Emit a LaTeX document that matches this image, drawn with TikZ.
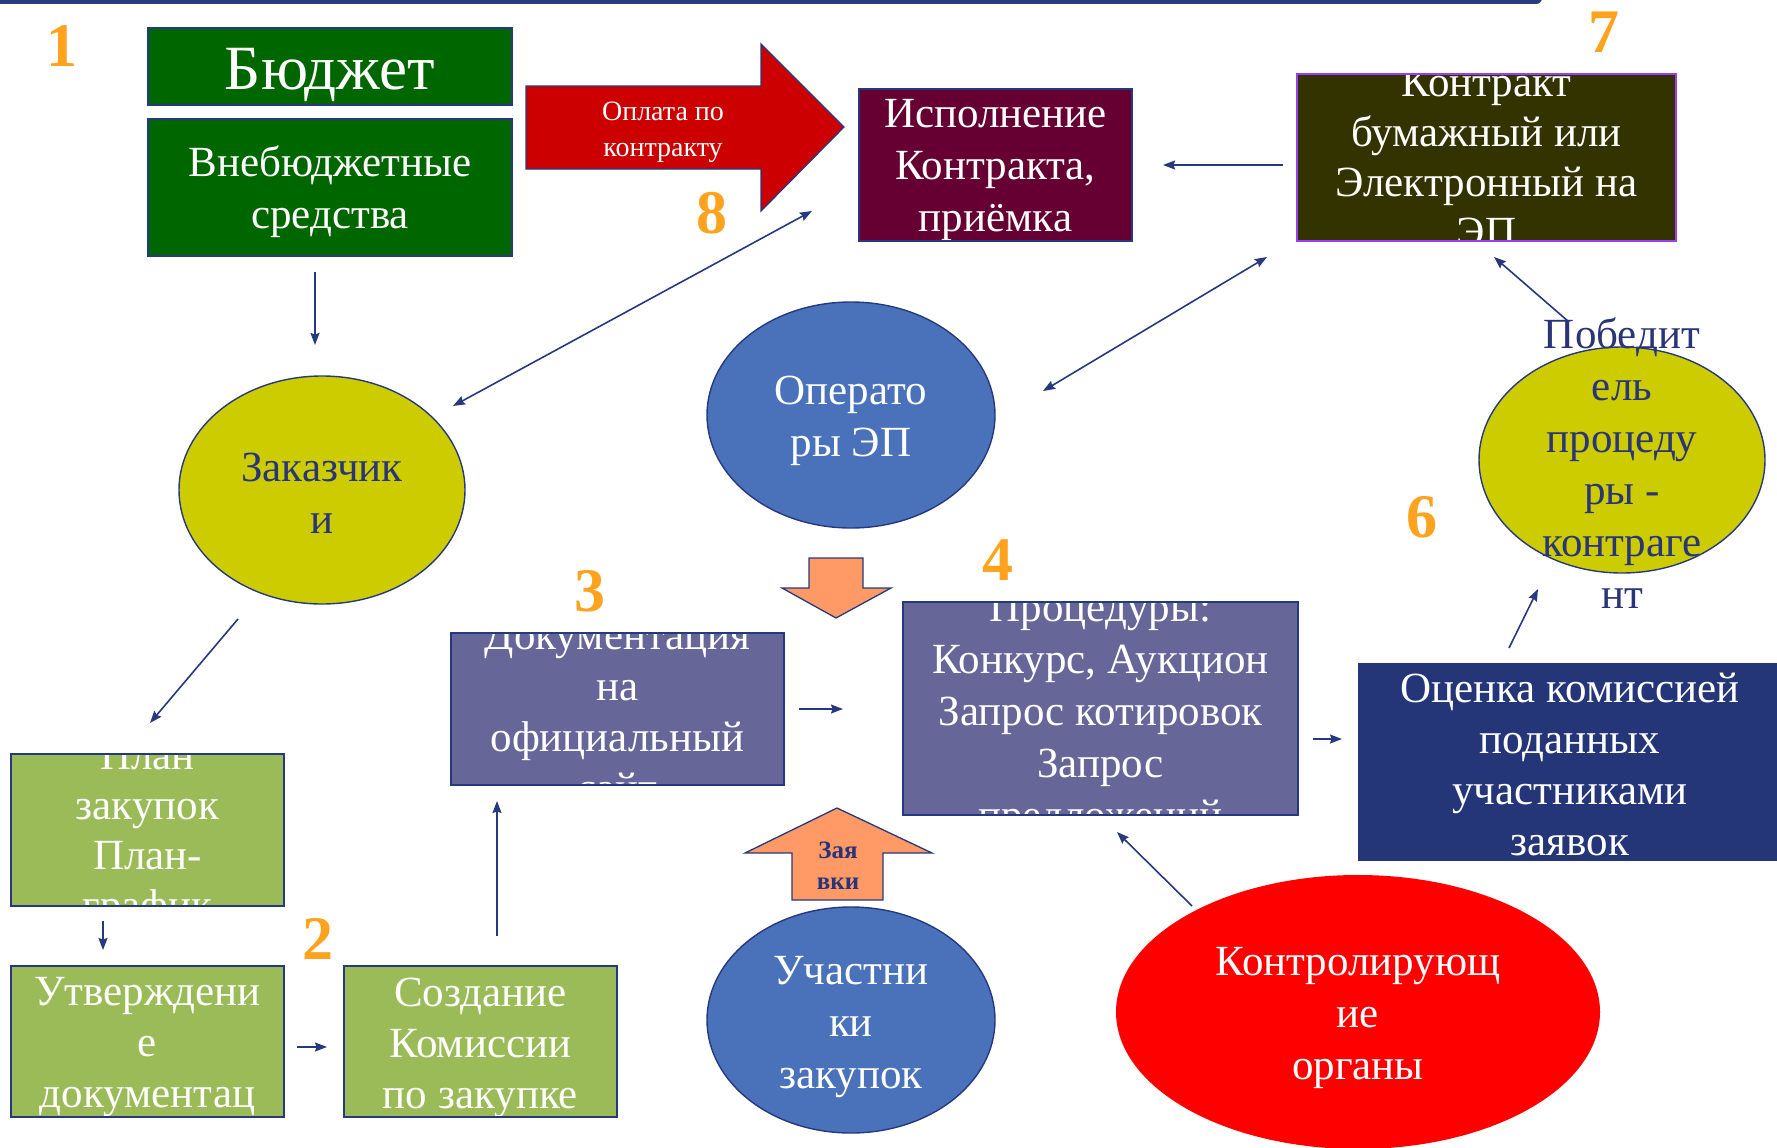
\documentclass[tikz,border=0pt]{standalone}
\usepackage{fontspec}
\setmainfont{Liberation Serif}
\usetikzlibrary{arrows.meta,calc,shapes.geometric}
\definecolor{navy}{HTML}{26397F}
\definecolor{navytxt}{HTML}{2A3478}
\definecolor{numcol}{HTML}{FFA31F}
\definecolor{dgreen}{HTML}{006600}
\definecolor{lgreen}{HTML}{9BBB59}
\definecolor{wine}{HTML}{660033}
\definecolor{olive}{HTML}{333300}
\definecolor{violet}{HTML}{9B3DF5}
\definecolor{blueell}{HTML}{4A72BA}
\definecolor{yell}{HTML}{CCCC00}
\definecolor{slate}{HTML}{666699}
\definecolor{deepblue}{HTML}{253678}
\definecolor{redarr}{HTML}{CC0000}
\definecolor{peach}{HTML}{FF9966}
\definecolor{barcol}{HTML}{283C7C}
\tikzset{
  ctip/.tip={Stealth[length=12pt,width=9pt,inset=1.5pt]},
  conn/.style={draw=navy, line width=1.6pt, -ctip},
  dconn/.style={draw=navy, line width=1.6pt, ctip-ctip},
  boxnode/.style={inner sep=0pt, outer sep=0pt, rectangle},
  bord/.style={draw=navy, line width=1.6pt},
  ellnode/.style={ellipse, inner sep=0pt, outer sep=0pt, draw=navy, line width=1.4pt},
  wtxt/.style={text=white, align=center, inner sep=0pt, font=\fontsize{43}{52}\selectfont},
  ntxt/.style={text=navytxt, align=center, inner sep=0pt, font=\fontsize{43}{52}\selectfont},
  num/.style={text=numcol, inner sep=0pt, font=\bfseries\fontsize{62}{62}\selectfont},
  shapeline/.style={draw=navy, line width=1.3pt, line join=miter},
}
\begin{document}
\begin{tikzpicture}[x=1pt,y=-1pt]
\useasboundingbox (0,0) rectangle (1777,1148);
% top bar
\fill[barcol, rounded corners=6pt] (-20,-20) rectangle (1542,4);

% numbers
\node[num] (n1) at (62,46) {1};
\node[num] (n8) at (712,213) {8};
\node[num] (n7) at (1604,32) {7};
\node[num] (n3) at (590,591) {3};
\node[num] (n4) at (998,560) {4};
\node[num] (n6) at (1422,517) {6};
\node[num] (n2) at (318,939) {2};

% boxes
\node[boxnode, fill=dgreen, minimum width=364pt, minimum height=77pt] (budj) at (330,66.5) {};
\node[boxnode, fill=dgreen, minimum width=364pt, minimum height=137pt] (vneb) at (330,187.5) {};
\node[boxnode, fill=wine, minimum width=273pt, minimum height=152pt] (isp) at (995.5,165) {};
\node[boxnode, fill=olive, minimum width=379pt, minimum height=167pt] (kontr) at (1486.5,157.5) {};
\node[boxnode, fill=slate, minimum width=333pt, minimum height=152pt] (doc) at (617.5,709) {};
\node[boxnode, fill=slate, minimum width=395pt, minimum height=213pt] (proc) at (1100.5,708.5) {};
\node[boxnode, fill=deepblue, minimum width=424pt, minimum height=198pt] (ocen) at (1570,762) {};
\node[boxnode, fill=lgreen, minimum width=273pt, minimum height=152pt] (plan) at (147.5,830) {};
\node[boxnode, fill=lgreen, minimum width=273pt, minimum height=151pt] (utv) at (147.5,1041.5) {};
\node[boxnode, fill=lgreen, minimum width=273pt, minimum height=151pt] (sozd) at (480.5,1041.5) {};

% box texts (clipped to their boxes)
\node[wtxt, font=\fontsize{63}{63}\selectfont] (budjT) at ($(budj)+(0,8)$) {Бюджет};
\node[wtxt, font=\fontsize{43}{52}\selectfont] (vnebT) at ($(vneb)+(0,4)$) {Внебюджетные\\средства};
\begin{scope}
\clip (isp.south west) rectangle (isp.north east);
\node[wtxt] (ispT) at ($(isp)+(0,5)$) {Исполнение\\Контракта,\\приёмка};
\end{scope}
\begin{scope}
\clip (kontr.south west) rectangle (kontr.north east);
\node[wtxt, font=\fontsize{43}{50}\selectfont] (kontrT) at (kontr) {Контракт\\бумажный или\\Электронный на\\ЭП};
\end{scope}
\begin{scope}
\clip (doc.south west) rectangle (doc.north east);
\node[wtxt, font=\fontsize{43}{51}\selectfont] (docT) at ($(doc)+(0,3)$) {Документация\\на\\официальный\\сайт};
\end{scope}
\begin{scope}
\clip (proc.south west) rectangle (proc.north east);
\node[wtxt] (procT) at ($(proc)+(0,7)$) {Процедуры:\\Конкурс, Аукцион\\Запрос котировок\\Запрос\\предложений};
\end{scope}
\node[wtxt, font=\fontsize{43}{51}\selectfont] (ocenT) at ($(ocen)+(0,2)$) {Оценка комиссией\\поданных\\участниками\\заявок};
\begin{scope}
\clip (plan.south west) rectangle (plan.north east);
\node[wtxt, font=\fontsize{43}{50}\selectfont] (planT) at ($(plan)+(0,5)$) {План\\закупок\\План-\\график};
\end{scope}
\begin{scope}
\clip (utv.south west) rectangle (utv.north east);
\node[wtxt, font=\fontsize{43}{51}\selectfont] (utvT) at ($(utv)+(0,6)$) {Утверждени\\е\\документац};
\end{scope}
\node[wtxt, font=\fontsize{43}{51}\selectfont] (sozdT) at ($(sozd)+(0,6)$) {Создание\\Комиссии\\по закупке};

% borders drawn over texts
\draw[bord] (budj.south west) rectangle (budj.north east);
\draw[bord] (vneb.south west) rectangle (vneb.north east);
\draw[bord] (isp.south west) rectangle (isp.north east);
\draw[draw=violet, line width=2pt] (kontr.south west) rectangle (kontr.north east);
\draw[bord] (doc.south west) rectangle (doc.north east);
\draw[bord] (proc.south west) rectangle (proc.north east);
\draw[bord] (plan.south west) rectangle (plan.north east);
\draw[bord] (utv.south west) rectangle (utv.north east);
\draw[bord] (sozd.south west) rectangle (sozd.north east);

% red arrow "payment"
\draw[shapeline, fill=redarr] (526,86) -- (761,86) -- (761,44) -- (844,127) -- (761,211) -- (761,169) -- (526,169) -- cycle;
\node[wtxt, font=\fontsize{28}{36}\selectfont] (pay) at (663,132) {Оплата по\\контракту};

% orange arrows
\draw[shapeline, fill=peach] (809,558) -- (863,558) -- (863,588) -- (891,588) -- (836,618) -- (782,588) -- (809,588) -- cycle;
\draw[shapeline, fill=peach] (837,808) -- (932,853) -- (883,853) -- (883,900) -- (792,900) -- (792,853) -- (745,853) -- cycle;
\node[ntxt, font=\bfseries\fontsize{25}{31}\selectfont] (zay) at (838,866) {Зая\\вки};

% ellipses
\node[ellnode, fill=yell, minimum width=286pt, minimum height=228pt] (zak) at (322,490) {};
\node[ntxt] (zakT) at ($(zak)+(0,3)$) {Заказчик\\и};
\node[ellnode, fill=blueell, minimum width=288pt, minimum height=226pt] (oper) at (851,415) {};
\node[wtxt] (operT) at ($(oper)+(0,6)$) {Операто\\ры ЭП};
\node[ellnode, fill=yell, minimum width=286pt, minimum height=226pt] (pob) at (1622,460) {};
\node[ntxt] (pobT) at (1622,463) {Победит\\ель\\процеду\\ры -\\контраге\\нт};
\node[ellnode, fill=blueell, minimum width=288pt, minimum height=226pt] (uch) at (851,1020) {};
\node[wtxt] (uchT) at ($(uch)+(0,7)$) {Участни\\ки\\закупок};
\node[ellipse, inner sep=0pt, fill=red, minimum width=484pt, minimum height=274pt] (kontrol) at (1358,1012) {};
\node[wtxt] (kontrolT) at ($(kontrol)+(0,6)$) {Контролирующ\\ие\\органы};

% connectors
\draw[conn] ($(vneb.south)+(-15,16)$) -- ($(zak.north)+(-7,-31)$);
\draw[dconn] ($(zak)+(131,-84)$) -- ($(isp.south west)+(-47,-30)$);
\draw[conn] ($(kontr.west)+(-14,7.5)$) -- ($(isp.east)+(31,0)$);
\draw[dconn] ($(oper)+(192,-24)$) -- ($(kontr.south west)+(-30,16)$);
\draw[conn] ($(pob)+(-53,-138)$) -- ($(kontr.south)+(7.5,16)$);
\draw[conn] ($(zak.south)+(-84,15)$) -- ($(plan.north)+(2.5,-31)$);
\draw[conn] ($(plan.south)+(-44.5,15)$) -- ($(utv.north)+(-44.5,-16)$);
\draw[conn] ($(utv.east)+(13,5.5)$) -- ($(sozd.west)+(-17,5.5)$);
\draw[conn] ($(sozd.north)+(16.5,-30)$) -- ($(doc.south west)+(46,16)$);
\draw[conn] ($(doc.east)+(15,0)$) -- ($(proc.west)+(-60,0.5)$);
\draw[conn] ($(proc.east)+(15,30.5)$) -- ($(ocen.west)+(-16,-23)$);
\draw[conn] ($(ocen.north)+(-61,-15)$) -- ($(pob.south)+(-84,16)$);
\draw[conn] ($(kontrol)+(-166,-106)$) -- ($(proc.south)+(16.5,17)$);
\end{tikzpicture}
\end{document}
